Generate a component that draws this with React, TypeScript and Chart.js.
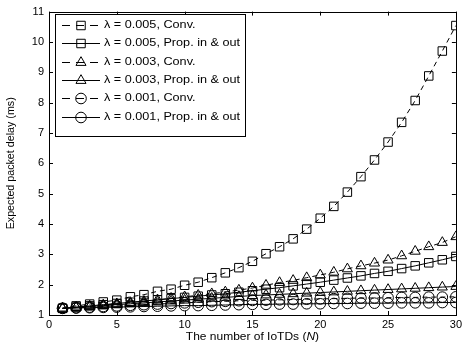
import React, { useEffect, useRef } from "react";
import { Chart, registerables } from "chart.js";

Chart.register(...registerables);

const N = [1, 2, 3, 4, 5, 6, 7, 8, 9, 10, 11, 12, 13, 14, 15, 16, 17, 18, 19, 20, 21, 22, 23, 24, 25, 26, 27, 28, 29, 30];

const conv005 = [1.22, 1.30, 1.36, 1.43, 1.49, 1.60, 1.67, 1.78, 1.85, 1.98, 2.08, 2.23, 2.39, 2.56, 2.77, 3.02, 3.25, 3.51, 3.83, 4.19, 4.58, 5.05, 5.56, 6.11, 6.70, 7.35, 8.07, 8.88, 9.70, 10.54];
const prop005 = [1.22, 1.26, 1.30, 1.34, 1.38, 1.42, 1.46, 1.50, 1.54, 1.58, 1.62, 1.66, 1.70, 1.75, 1.80, 1.85, 1.90, 1.96, 2.02, 2.08, 2.15, 2.22, 2.29, 2.37, 2.44, 2.53, 2.62, 2.72, 2.82, 2.93];
const conv003 = [1.22, 1.25, 1.29, 1.33, 1.37, 1.41, 1.45, 1.50, 1.55, 1.60, 1.65, 1.70, 1.76, 1.82, 1.89, 1.98, 2.07, 2.14, 2.23, 2.32, 2.41, 2.52, 2.62, 2.71, 2.81, 2.95, 3.10, 3.25, 3.39, 3.58];
const prop003 = [1.22, 1.25, 1.28, 1.31, 1.34, 1.37, 1.40, 1.43, 1.46, 1.49, 1.52, 1.55, 1.58, 1.61, 1.64, 1.66, 1.68, 1.70, 1.72, 1.74, 1.76, 1.78, 1.80, 1.82, 1.84, 1.86, 1.88, 1.90, 1.92, 1.94];
const conv001 = [1.22, 1.24, 1.26, 1.28, 1.30, 1.32, 1.34, 1.36, 1.38, 1.40, 1.42, 1.44, 1.45, 1.47, 1.48, 1.49, 1.50, 1.51, 1.52, 1.53, 1.54, 1.55, 1.56, 1.56, 1.57, 1.58, 1.58, 1.59, 1.59, 1.60];
const prop001 = [1.22, 1.23, 1.24, 1.25, 1.26, 1.27, 1.28, 1.29, 1.30, 1.31, 1.31, 1.32, 1.33, 1.34, 1.35, 1.35, 1.36, 1.36, 1.37, 1.37, 1.38, 1.38, 1.39, 1.39, 1.39, 1.40, 1.40, 1.40, 1.41, 1.41];

const seriesLabels = [
  "λ = 0.005, Conv.",
  "λ = 0.005, Prop. in & out",
  "λ = 0.003, Conv.",
  "λ = 0.003, Prop. in & out",
  "λ = 0.001, Conv.",
  "λ = 0.001, Prop. in & out",
];
const seriesValues = [conv005, prop005, conv003, prop003, conv001, prop001];
const seriesMarkers = ["rect", "rect", "triangle", "triangle", "circle", "circle"];
const seriesDashed = [true, false, true, false, true, false];

const xTitle = "The number of IoTDs (";
const xTitleVar = "N";
const xTitleEnd = ")";
const yTitle = "Expected packet delay (ms)";

const FONT = "'Liberation Sans', Arial, sans-serif";
const DASH = [5, 4];
const LEGEND_DASH = [8, 6];
const markerRadius: Record<string, number> = { rect: 6, triangle: 5.8, circle: 5.3 };

function drawMarker(ctx: CanvasRenderingContext2D, style: string, r: number, x: number, y: number) {
  ctx.beginPath();
  if (style === "rect") {
    const s = Math.SQRT1_2 * r;
    ctx.rect(x - s, y - s, 2 * s, 2 * s);
  } else if (style === "triangle") {
    ctx.moveTo(x, y - r);
    ctx.lineTo(x - r * 0.866, y + r * 0.5);
    ctx.lineTo(x + r * 0.866, y + r * 0.5);
    ctx.closePath();
  } else {
    ctx.arc(x, y, r, 0, Math.PI * 2);
  }
  ctx.stroke();
}

const framePlugin = {
  id: "frame",
  afterDraw(chart: any) {
    const { ctx, chartArea: a, scales } = chart;
    ctx.save();
    ctx.strokeStyle = "#000";
    ctx.lineWidth = 1;
    ctx.strokeRect(Math.round(a.left) + 0.5, Math.round(a.top) + 0.5, Math.round(a.right - a.left), Math.round(a.bottom - a.top));
    const tl = 4;
    ctx.beginPath();
    scales.x.ticks.forEach((t: any) => {
      const px = Math.round(scales.x.getPixelForValue(t.value)) + 0.5;
      ctx.moveTo(px, a.bottom);
      ctx.lineTo(px, a.bottom - tl);
      ctx.moveTo(px, a.top);
      ctx.lineTo(px, a.top + tl);
    });
    scales.y.ticks.forEach((t: any) => {
      const py = Math.round(scales.y.getPixelForValue(t.value)) + 0.5;
      ctx.moveTo(a.left, py);
      ctx.lineTo(a.left + tl, py);
      ctx.moveTo(a.right, py);
      ctx.lineTo(a.right - tl, py);
    });
    ctx.stroke();

    // y title
    ctx.fillStyle = "#000";
    ctx.textBaseline = "middle";
    ctx.font = `10px ${FONT}`;
    ctx.save();
    ctx.translate(11, (a.top + a.bottom) / 2);
    ctx.rotate(-Math.PI / 2);
    ctx.scale(1.07, 1);
    ctx.textAlign = "center";
    ctx.fillText(yTitle, 0, 0);
    ctx.restore();

    // x title
    const normal = `11px ${FONT}`;
    const italic = `italic 11px ${FONT}`;
    const sx = 1.09;
    ctx.font = normal;
    const w1 = ctx.measureText(xTitle).width;
    const w3 = ctx.measureText(xTitleEnd).width;
    ctx.font = italic;
    const w2 = ctx.measureText(xTitleVar).width;
    const total = (w1 + w2 + w3) * sx;
    ctx.save();
    ctx.translate((a.left + a.right) / 2 - total / 2, 337);
    ctx.scale(sx, 1);
    ctx.textAlign = "left";
    let x0 = 0;
    ctx.font = normal;
    ctx.fillText(xTitle, x0, 0);
    x0 += w1;
    ctx.font = italic;
    ctx.fillText(xTitleVar, x0, 0);
    x0 += w2;
    ctx.font = normal;
    ctx.fillText(xTitleEnd, x0, 0);
    ctx.restore();

    // legend
    const lx = 55, ly = 14, lw = 190, lh = 122;
    ctx.fillStyle = "#fff";
    ctx.fillRect(lx, ly, lw, lh);
    ctx.strokeStyle = "#000";
    ctx.strokeRect(lx + 0.5, ly + 0.5, lw, lh);
    const rowH = 18.3;
    chart.data.datasets.forEach((ds: any, i: number) => {
      const cy = ly + 11 + i * rowH;
      ctx.save();
      ctx.strokeStyle = "#000";
      ctx.lineWidth = 1;
      ctx.setLineDash(ds.borderDash && ds.borderDash.length ? LEGEND_DASH : []);
      ctx.beginPath();
      ctx.moveTo(62, Math.round(cy) + 0.5);
      ctx.lineTo(100, Math.round(cy) + 0.5);
      ctx.stroke();
      ctx.setLineDash([]);
      drawMarker(ctx, ds.pointStyle, ds.pointRadius, 81, Math.round(cy) + 0.5);
      ctx.restore();
      ctx.save();
      ctx.fillStyle = "#000";
      ctx.font = `11px ${FONT}`;
      ctx.textAlign = "left";
      ctx.textBaseline = "middle";
      ctx.translate(104, cy);
      ctx.scale(1.15, 1);
      ctx.fillText(ds.label, 0, 0);
      ctx.restore();
    });
    ctx.restore();
  },
};

export default function App() {
  const ref = useRef<HTMLCanvasElement | null>(null);
  useEffect(() => {
    document.body.style.margin = "0";
    const canvas = ref.current;
    if (!canvas) return;
    const datasets = seriesValues.map((vals, i) => ({
      label: seriesLabels[i],
      data: vals.map((v, j) => ({ x: N[j], y: v })),
      borderColor: "#000",
      backgroundColor: "transparent",
      borderWidth: 1,
      borderDash: seriesDashed[i] ? DASH : [],
      pointStyle: seriesMarkers[i],
      pointRadius: markerRadius[seriesMarkers[i]],
      pointBorderColor: "#000",
      pointBackgroundColor: "transparent",
      pointBorderWidth: 1,
      tension: 0,
      fill: false,
    }));
    const chart = new Chart(canvas, {
      type: "line",
      data: { datasets },
      options: {
        animation: false,
        responsive: false,
        devicePixelRatio: 1,
        layout: { padding: { top: 8, right: 5, left: 0, bottom: 0 } },
        plugins: { legend: { display: false }, tooltip: { enabled: false } },
        scales: {
          x: {
            type: "linear",
            min: 0,
            max: 30,
            ticks: { stepSize: 5, color: "#000", font: { family: FONT, size: 11 }, padding: 3, maxRotation: 0 },
            grid: { display: true, drawOnChartArea: false, drawTicks: false },
            border: { display: false },
            afterFit: (s: any) => { s.height = 34; },
          },
          y: {
            type: "linear",
            min: 1,
            max: 11,
            ticks: { stepSize: 1, color: "#000", font: { family: FONT, size: 11 }, padding: 5 },
            grid: { display: true, drawOnChartArea: false, drawTicks: false },
            border: { display: false },
            afterFit: (s: any) => { s.width = 49; },
          },
        },
      },
      plugins: [framePlugin],
    });
    return () => chart.destroy();
  }, []);
  return <canvas ref={ref} width={465} height={349} style={{ display: "block" }} />;
}
